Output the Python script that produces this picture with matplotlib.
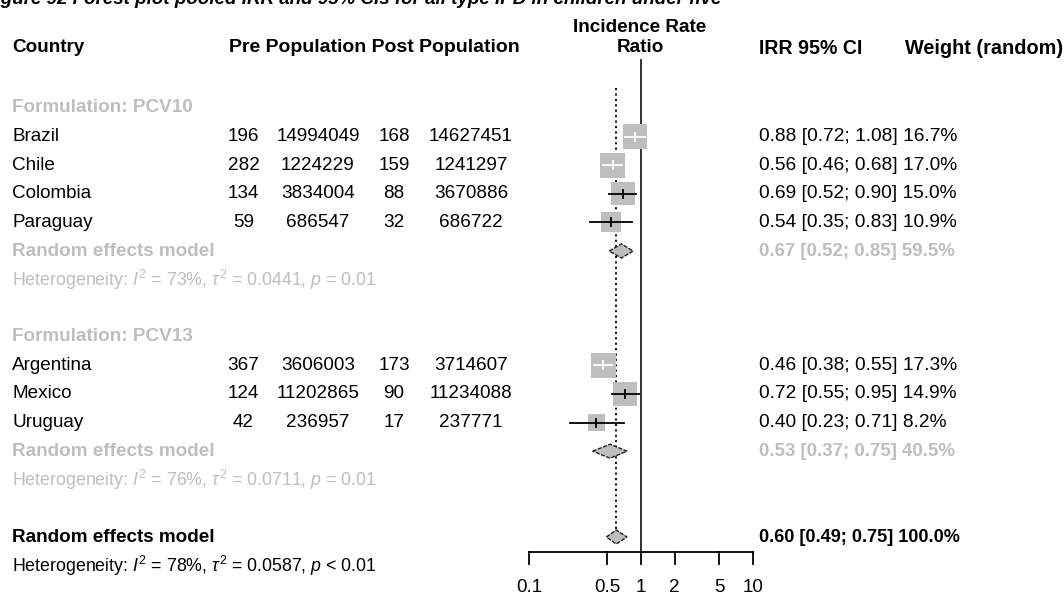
import numpy as np
import matplotlib
matplotlib.use("Agg")
import matplotlib.pyplot as plt
from matplotlib.patches import Rectangle, Polygon

plt.rcParams["font.family"] = ["Liberation Sans", "DejaVu Sans"]
plt.rcParams["mathtext.fontset"] = "custom"
plt.rcParams["mathtext.rm"] = "Liberation Sans"
plt.rcParams["mathtext.it"] = "Liberation Sans:italic"
plt.rcParams["mathtext.bf"] = "Liberation Sans:bold"

# study level data
countries = ["Brazil", "Chile", "Colombia", "Paraguay", "Argentina", "Mexico", "Uruguay"]
groups = ["PCV10", "PCV10", "PCV10", "PCV10", "PCV13", "PCV13", "PCV13"]
pre_events = [196, 282, 134, 59, 367, 124, 42]
pre_pop = [14994049, 1224229, 3834004, 686547, 3606003, 11202865, 236957]
post_events = [168, 159, 88, 32, 173, 90, 17]
post_pop = [14627451, 1241297, 3670886, 686722, 3714607, 11234088, 237771]
irr = [0.88, 0.56, 0.69, 0.54, 0.46, 0.72, 0.40]
irr_lo = [0.72, 0.46, 0.52, 0.35, 0.38, 0.55, 0.23]
irr_hi = [1.08, 0.68, 0.90, 0.83, 0.55, 0.95, 0.71]
weight = [16.7, 17.0, 15.0, 10.9, 17.3, 14.9, 8.2]

# subgroup random effects summaries
sub_names = ["PCV10", "PCV13"]
sub_irr = [0.67, 0.53]
sub_lo = [0.52, 0.37]
sub_hi = [0.85, 0.75]
sub_weight = [59.5, 40.5]
sub_i2 = [73, 76]
sub_tau2 = [0.0441, 0.0711]
sub_p = ["= 0.01", "= 0.01"]

# overall random effects summary
all_irr, all_lo, all_hi, all_weight = 0.60, 0.49, 0.75, 100.0
all_i2, all_tau2, all_p = 78, 0.0587, "< 0.01"

xticks = [0.1, 0.5, 1, 2, 5, 10]

W, H = 1064, 595
ROW0, ROWH = 108, 28.6          # pixel y of first row, row height
PX_DEC = 112                    # pixels per decade on the forest axis
GRAY = "#bebebe"
FS = 13.6


def row_of(py):
    return (py - ROW0) / ROWH


fig = plt.figure(figsize=(W / 100, H / 100), dpi=100)
tax = fig.add_axes([0, 0, 1, 1])
tax.set_xlim(0, W)
tax.set_ylim(row_of(H), row_of(0))
tax.axis("off")

fx0, fx1 = 529, 753
fax = fig.add_axes([fx0 / W, 0, (fx1 - fx0) / W, 1])
fax.set_xscale("log")
fax.set_xlim(0.1, 10)
fax.set_ylim(row_of(H), row_of(0))
fax.axis("off")

# caption running off the top edge
tax.text(-16, row_of(4), "Figure 92 Forest plot pooled IRR and 95% CIs for all type IPD in children under five",
         fontsize=13.5, fontweight="bold", fontstyle="italic", va="baseline", ha="left")

# column headers
hdr_y = row_of(48)
tax.text(12, hdr_y, "Country", fontsize=FS, fontweight="bold", va="center")
tax.text(229, hdr_y, "Pre Population Post Population", fontsize=14, fontweight="bold", va="center")
tax.text(640, row_of(27), "Incidence Rate", fontsize=FS, fontweight="bold", va="center", ha="center")
tax.text(640, hdr_y, "Ratio", fontsize=FS, fontweight="bold", va="center", ha="center")
tax.text(759, hdr_y, "IRR 95% CI", fontsize=14.1, fontweight="bold", va="center")
tax.text(905, hdr_y, "Weight (random)", fontsize=14.3, fontweight="bold", va="center")


def box(x, y, w):
    half_px = 6.0 * np.sqrt(w) / 2
    hd = half_px / PX_DEC
    hr = half_px / ROWH
    x0, x1 = x * 10 ** -hd, x * 10 ** hd
    fax.add_patch(Rectangle((x0, y - hr), x1 - x0, 2 * hr, facecolor=GRAY,
                            edgecolor="none", clip_on=False, zorder=3))
    return x0, x1


def diamond(x, lo, hi, y, face):
    hr = 7 / ROWH
    fax.add_patch(Polygon([(lo, y), (x, y - hr), (hi, y), (x, y + hr)], closed=True,
                          facecolor=face, edgecolor="#222222", linewidth=1.0,
                          linestyle=(0, (3, 1)), clip_on=False, zorder=4))


def het_text(y, i2, tau2, p, color):
    tax.text(12, y, r"Heterogeneity: $I^2$ = %d%%, $\tau^2$ = %.4f, $p$ %s" % (i2, tau2, p),
             fontsize=12.8, color=color, va="center")


def ci_text(est, lo, hi, w):
    return "%.2f [%.2f; %.2f] %.1f%%" % (est, lo, hi, w)


row = 0
for g, name in enumerate(sub_names):
    tax.text(12, row, "Formulation: " + name, fontsize=FS, fontweight="bold", color=GRAY, va="center")
    row += 1
    for i in [k for k, gg in enumerate(groups) if gg == name]:
        tax.text(12, row, countries[i], fontsize=FS, va="center")
        tax.text(243.5, row, str(pre_events[i]), fontsize=FS, va="center", ha="center")
        tax.text(318, row, str(pre_pop[i]), fontsize=FS, va="center", ha="center")
        tax.text(394, row, str(post_events[i]), fontsize=FS, va="center", ha="center")
        tax.text(471, row, str(post_pop[i]), fontsize=FS, va="center", ha="center")
        tax.text(759, row, ci_text(irr[i], irr_lo[i], irr_hi[i], weight[i]), fontsize=13.8, va="center")

        x0, x1 = box(irr[i], row, weight[i])
        col = "white" if (irr_lo[i] >= x0 and irr_hi[i] <= x1) else "black"
        fax.plot([irr_lo[i], irr_hi[i]], [row, row], color=col, lw=1.3, clip_on=False, zorder=5)
        fax.plot([irr[i], irr[i]], [row - 4 / ROWH, row + 4 / ROWH], color=col, lw=1.3,
                 clip_on=False, zorder=5)
        row += 1

    tax.text(12, row, "Random effects model", fontsize=FS, fontweight="bold", color=GRAY, va="center")
    tax.text(759, row, ci_text(sub_irr[g], sub_lo[g], sub_hi[g], sub_weight[g]),
             fontsize=13.4, fontweight="bold", color=GRAY, va="center")
    diamond(sub_irr[g], sub_lo[g], sub_hi[g], row, GRAY)
    row += 1
    het_text(row, sub_i2[g], sub_tau2[g], sub_p[g], GRAY)
    row += 2

# overall model
tax.text(12, row, "Random effects model", fontsize=FS, fontweight="bold", va="center")
tax.text(759, row, ci_text(all_irr, all_lo, all_hi, all_weight),
         fontsize=13.1, fontweight="bold", va="center")
diamond(all_irr, all_lo, all_hi, row, GRAY)
het_text(row + 1, all_i2, all_tau2, all_p, "black")

# reference lines
axis_y = row_of(552)
fax.plot([1, 1], [row_of(60), axis_y], color="#222222", lw=1.3, clip_on=False)
fax.plot([all_irr, all_irr], [row_of(88), row - 7 / ROWH], color="black", lw=1.3,
         linestyle=(0, (1.2, 1.8)), clip_on=False)

# log axis
fax.plot([xticks[0], xticks[-1]], [axis_y, axis_y], color="black", lw=1.3, clip_on=False)
for t in xticks:
    fax.plot([t, t], [axis_y, row_of(564)], color="black", lw=1.3, clip_on=False)
    fax.text(t, row_of(588), "%g" % t, fontsize=FS, ha="center", va="center")

fig.savefig("out.png", dpi=100)
